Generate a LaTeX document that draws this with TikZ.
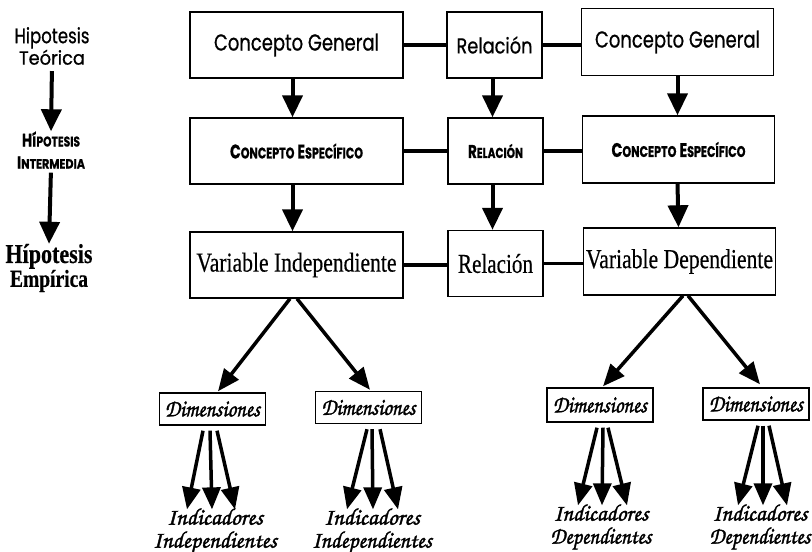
\documentclass[tikz,border=0pt]{standalone}
\usepackage{fontspec}
\usepackage{graphicx}
\setmainfont{Liberation Serif}
\newfontfamily\ser{Liberation Serif}[FakeBold=0.5]
\newfontfamily\geo{Poppins}[FakeBold=0.8]
\newfontfamily\scr{TeX Gyre Chorus}[FakeBold=1.6]
\usetikzlibrary{arrows.meta,calc}

% scale a label to a given width
\newcommand\fitw[2]{\resizebox{#1}{!}{#2}}
% scale a label to a given width and height
\newcommand\fitwh[3]{\resizebox{#1}{#2}{#3}}
% hand-made small capitals
\newcommand\fsc[2]{#1\scalebox{0.78}{#2}}

\begin{document}
\begin{tikzpicture}[x=1pt,y=-1pt,
  box/.style={draw, line width=1.4pt, inner sep=0pt},
  wide/.style={box, minimum width=213pt, minimum height=66pt},
  side/.style={box, minimum width=192pt, minimum height=67pt},
  rel/.style={box, minimum width=95pt, minimum height=66pt},
  dimbox/.style={box, minimum width=106pt, minimum height=32pt},
  lbl/.style={inner sep=0pt, align=center},
  link/.style={line width=3.5pt},
  arr/.style={line width=4pt, -{Triangle[width=20pt,length=22pt]}},
  darr/.style={line width=3.5pt, -{Triangle[width=18pt,length=22pt]}}]

\useasboundingbox (0,0) rectangle (812,552);

% left column: levels of the hypothesis
\node[lbl, font=\geo\fontsize{14}{20}\selectfont] (ht) at (52,46)
  {\fitwh{75pt}{16pt}{Hipotesis}\\\fitwh{66pt}{15pt}{Teórica}};
\node[lbl, font=\geo\bfseries\fontsize{12}{22}\selectfont] (hi) at (51,150)
  {\fitwh{58pt}{15pt}{H\fsc{í}{POTESIS}}\\\fitwh{68pt}{12pt}{\fsc{I}{NTERMEDIA}}};
\node[lbl, font=\ser\bfseries\fontsize{16}{20}\selectfont] (he) at (49,268)
  {\fitwh{87pt}{19pt}{Hípotesis}\\\fitwh{78pt}{17pt}{Empírica}};
\draw[arr, shorten <=6pt] (ht.south) -- (hi.north);
\draw[arr, shorten <=4pt] (hi.south) -- (he.north);

% first row
\node[wide] (cg1) at (296.5,45) {\geo\fitwh{165pt}{17pt}{Concepto General}};
\node[rel]  (r1)  at (494.5,45) {\geo\fitwh{76pt}{17pt}{Relación}};
\node[side] (cg2) at (677.5,42) {\geo\fitwh{165pt}{17pt}{Concepto General}};

% second row
\node[wide] (ce1) at (296.5,151) {\geo\bfseries\fitwh{133pt}{15pt}{\fsc{C}{ONCEPTO} \fsc{E}{SPECÍFICO}}};
\node[rel]  (r2)  at (495.5,151) {\geo\bfseries\fitwh{55pt}{14pt}{\fsc{R}{ELACIÓN}}};
\node[side] (ce2) at (678.5,149.5) {\geo\bfseries\fitwh{134pt}{15pt}{\fsc{C}{ONCEPTO} \fsc{E}{SPECÍFICO}}};

% third row
\node[wide] (vi) at (296.5,265) {\ser\fitwh{200pt}{19pt}{Variable Independiente}};
\node[rel]  (r3) at (495.5,263.5) {\ser\fitwh{75pt}{19pt}{Relación}};
\node[side] (vd) at (679.5,261.5) {\ser\fitwh{187pt}{19pt}{Variable Dependiente}};

% horizontal links
\draw[link] (cg1.east) -- (cg1.east -| r1.west);
\draw[link] (r1.east) -- (r1.east -| cg2.west);
\draw[link] (ce1.east) -- (ce1.east -| r2.west);
\draw[link] (r2.east) -- (r2.east -| ce2.west);
\draw[link] (vi.east) -- (vi.east -| r3.west);
\draw[link] (r3.east) -- (r3.east -| vd.west);

% vertical arrows
\draw[arr] ($(cg1.south)+(-4,0)$) -- ($(ce1.north)+(-4,0)$);
\draw[arr] ($(r1.south)+(-2,0)$) -- ($(r2.north)+(-3,0)$);
\draw[arr] (cg2.south) -- (cg2.south |- ce2.north);
\draw[arr] ($(ce1.south)+(-4,0)$) -- ($(vi.north)+(-4,0)$);
\draw[arr] ($(r2.south)+(-3,0)$) -- ($(r3.north)+(-3,0)$);
\draw[arr] ($(ce2.south)+(-1,0)$) -- ($(vd.north)+(-1,0)$);

% dimensions
\node[dimbox] (dim1) at (212.5,409) {\scr\fitwh{95pt}{15pt}{Dimensiones}};
\node[dimbox] (dim2) at (368.5,407.5) {\scr\fitwh{94pt}{15pt}{Dimensiones}};
\node[dimbox, minimum height=34pt] (dim3) at (600,405) {\scr\fitwh{94pt}{15pt}{Dimensiones}};
\node[dimbox] (dim4) at (756,404) {\scr\fitwh{94pt}{15pt}{Dimensiones}};

\draw[darr] ($(vi.south)+(-6.5,0)$) -- ($(dim1.north)+(5.5,-1)$);
\draw[darr] ($(vi.south)+(0.5,0)$) -- ($(dim2.north)+(1.5,-1)$);
\draw[darr] ($(vd.south)+(3.5,0)$) -- ($(dim3.north)+(3,-1)$);
\draw[darr] ($(vd.south)+(8.5,0)$) -- ($(dim4.north)+(4,-3)$);

% indicators
\node[lbl, font=\scr\fontsize{14}{23}\selectfont] (ind1) at (215,531)
  {\fitwh{96pt}{16pt}{Indicadores}\\\fitwh{124pt}{16pt}{Independientes}};
\node[lbl, font=\scr\fontsize{14}{23}\selectfont] (ind2) at (372,531)
  {\fitwh{96pt}{16pt}{Indicadores}\\\fitwh{120pt}{16pt}{Independientes}};
\node[lbl, font=\scr\fontsize{14}{23}\selectfont] (ind3) at (601,527)
  {\fitwh{95pt}{16pt}{Indicadores}\\\fitwh{101pt}{16pt}{Dependientes}};
\node[lbl, font=\scr\fontsize{14}{23}\selectfont] (ind4) at (760,527)
  {\fitwh{95pt}{16pt}{Indicadores}\\\fitwh{101pt}{16pt}{Dependientes}};

\foreach \d/\i/\s/\t in {dim1/ind1/-9.5/-28, dim1/ind1/-2.5/-3, dim1/ind1/4.5/20,
                         dim2/ind2/-1.5/-25, dim2/ind2/3.5/1, dim2/ind2/11.5/26,
                         dim3/ind3/-3/-23, dim3/ind3/3/1, dim3/ind3/8/26,
                         dim4/ind4/2/-22, dim4/ind4/7/3, dim4/ind4/13/27}
  \draw[darr] ($(\d.south)+(\s,5)$) -- ($(\i.north)+(\t,1)$);

\end{tikzpicture}
\end{document}
